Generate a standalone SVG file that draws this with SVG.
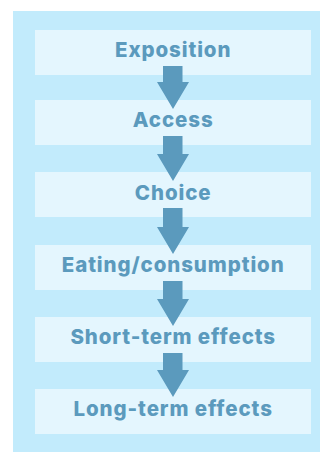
<svg xmlns="http://www.w3.org/2000/svg" width="320" height="452" viewBox="0 0 320 452">
<style>
.box{fill:#e4f6fe}
.lbl{font-family:Inter,"Noto Sans","Liberation Sans",sans-serif;font-weight:800;font-size:20.5px;letter-spacing:0.9px;fill:#5b9abd;text-anchor:middle}
.arr{fill:#5b9abd}
</style>
<rect x="13" y="11" width="307" height="441" fill="#c2ebfc"/>
<g id="n1"><rect class="box" x="35" y="30" width="276" height="45"/><text class="lbl" x="173.2" y="56.8">Exposition</text></g>
<g id="n2"><rect class="box" x="35" y="100" width="276" height="45"/><text class="lbl" x="173.2" y="127.3">Access</text></g>
<g id="n3"><rect class="box" x="35" y="172" width="276" height="45"/><text class="lbl" x="173.2" y="199.5">Choice</text></g>
<g id="n4"><rect class="box" x="35" y="245" width="276" height="45"/><text class="lbl" x="173.2" y="271.5">Eating/consumption</text></g>
<g id="n5"><rect class="box" x="35" y="317" width="276" height="45"/><text class="lbl" x="173.2" y="344">Short-term effects</text></g>
<g id="n6"><rect class="box" x="35" y="389" width="276" height="45"/><text class="lbl" x="173.2" y="416">Long-term effects</text></g>
<g id="connectors">
<polygon class="arr" points="163,66 182.5,66 182.5,82 189,82 173,109 157,82 163,82"/>
<polygon class="arr" points="163,136 182.5,136 182.5,154 189,154 173,181 157,154 163,154"/>
<polygon class="arr" points="163,208 182.5,208 182.5,227 189,227 173,254 157,227 163,227"/>
<polygon class="arr" points="163,281 182.5,281 182.5,299 189,299 173,326 157,299 163,299"/>
<polygon class="arr" points="163,353 182.5,353 182.5,370 189,370 173,397 157,370 163,370"/>
</g>
</svg>
